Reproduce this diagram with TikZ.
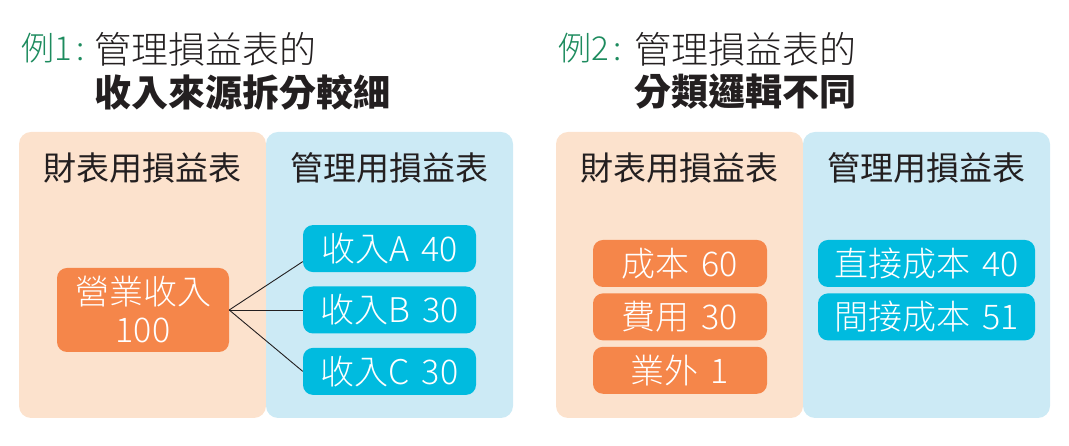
\documentclass[tikz,border=0pt]{standalone}
\usepackage{fontspec}
\setmainfont{Noto Sans CJK TC}
\IfFontExistsTF{Noto Sans CJK TC Light}
	{\newfontfamily\thin{Noto Sans CJK TC Light}}
	{\newfontfamily\thin{Noto Sans CJK TC}}
\usetikzlibrary{positioning}
\definecolor{peach}{HTML}{FCE2CD}
\definecolor{skyb}{HTML}{CCEAF5}
\definecolor{orng}{HTML}{F5864A}
\definecolor{cyanb}{HTML}{00BBDF}
\definecolor{exgreen}{HTML}{1D8B5E}
\definecolor{ink}{HTML}{231F20}
\newcommand\gapsp{\hspace{.35em}}

\begin{document}
\begin{tikzpicture}[x=1pt,y=1pt,
	panel/.style={rounded corners=12pt,minimum width=247pt,minimum height=286pt,inner sep=0pt},
	hdr/.style={text=ink,font=\fontsize{33}{33}\selectfont},
	title/.style={anchor=west,inner sep=0pt,text=ink,font=\fontsize{37}{37}\selectfont\thin},
	box/.style={rounded corners=10pt,text=white,inner sep=0pt,minimum height=47pt,align=center,font=\fontsize{34}{38}\selectfont\thin},
	obox/.style={box,fill=orng},
	cbox/.style={box,fill=cyanb}]
	\useasboundingbox (0,0) rectangle (1069,446);
	% panels
	\node[panel,fill=peach] (finL) at (142.5,171) {};
	\node[panel,fill=skyb]  (mgtL) at (389.5,171) {};
	\node[panel,fill=peach] (finR) at (679.5,171) {};
	\node[panel,fill=skyb]  (mgtR) at (926.5,171) {};
	\node[hdr] (hFinL) at (142.5,278) {財表用損益表};
	\node[hdr] (hMgtL) at (389.5,278) {管理用損益表};
	\node[hdr] (hFinR) at (679.5,278) {財表用損益表};
	\node[hdr] (hMgtR) at (926.5,278) {管理用損益表};
	% titles
	\node[title,text=exgreen,font=\fontsize{33}{33}\selectfont\thin] (ex1) at (21,398) {例1\kern5pt:};
	\node[title] (t1) at (94,397) {管理損益表的};
	\node[title,font=\fontsize{37}{37}\selectfont\bfseries] (t1b) at (94,354) {收入來源拆分較細};
	\node[title,text=exgreen,font=\fontsize{33}{33}\selectfont\thin] (ex2) at (558,398) {例2\kern5pt:};
	\node[title] (t2) at (634,397) {管理損益表的};
	\node[title,font=\fontsize{37}{37}\selectfont\bfseries] (t2b) at (634,354) {分類邏輯不同};
	% example 1
	\node[obox,minimum width=172pt,minimum height=84pt] (rev) at (143,136) {營業收入\\100};
	\node[cbox,minimum width=173pt] (revB) at (389.5,136) {收入B\gapsp30};
	\node[cbox,minimum width=173pt,above=14pt of revB] (revA) {收入A\gapsp40};
	\node[cbox,minimum width=173pt,below=14pt of revB] (revC) {收入C\gapsp30};
	\path[draw=ink,line width=0.9pt]
	(rev.east) edge ([yshift=-13pt]revA.west)
	(rev.east) edge (revB.west)
	(rev.east) edge (revC.west);
	% example 2
	\node[obox,minimum width=174pt] (cost) at (680,182.5) {成本\gapsp60};
	\node[obox,minimum width=174pt,below=6pt of cost] (exp) {費用\gapsp30};
	\node[obox,minimum width=174pt,below=6pt of exp] (nonop) {業外\gapsp1};
	\node[cbox,minimum width=217pt] (direct) at (926.5,182.5) {直接成本\gapsp40};
	\node[cbox,minimum width=217pt,below=6pt of direct] (indirect) {間接成本\gapsp51};
\end{tikzpicture}
\end{document}
